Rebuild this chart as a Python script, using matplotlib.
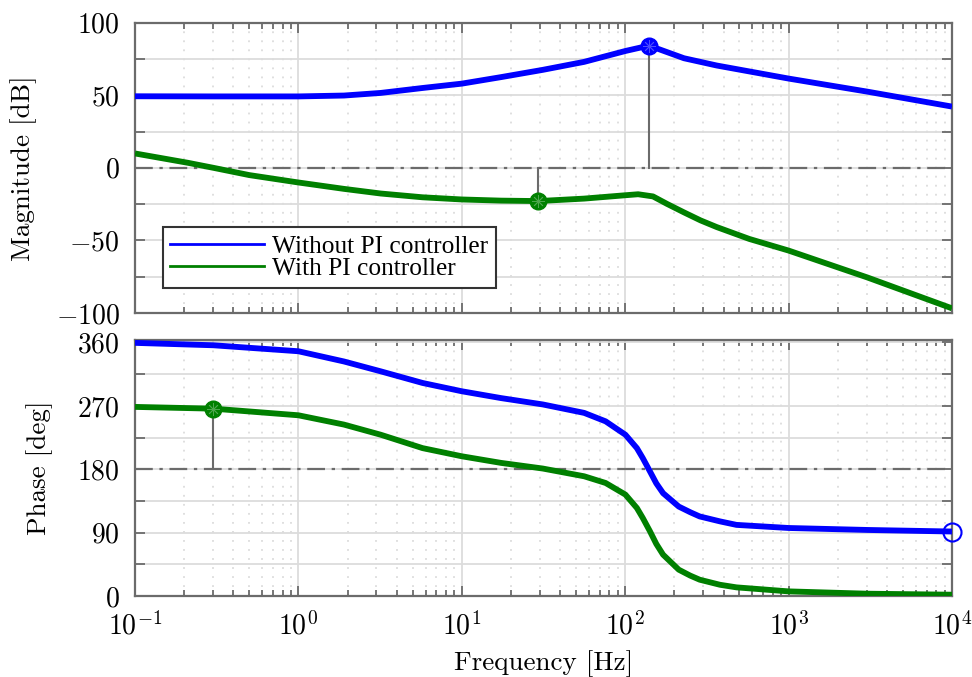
import numpy as np
import matplotlib
matplotlib.use("Agg")
import matplotlib.pyplot as plt
from matplotlib.lines import Line2D
from matplotlib.ticker import FixedLocator, LogLocator, NullFormatter

plt.rcParams['font.family'] = ['cmr10']
plt.rcParams['mathtext.fontset'] = 'cm'
plt.rcParams['axes.formatter.use_mathtext'] = True

# datos
f_mag_sin = [0.1, 0.302, 1.0, 1.9, 3.19, 5.75, 10, 17.4, 31.3, 56.1, 100.3, 140, 229, 363, 1000, 3030, 10000]
mag_sin = [49.3, 49.2, 49.2, 49.8, 51.6, 55, 58, 62.5, 67.5, 73, 80.5, 84.2, 75.5, 70.5, 61.5, 52.5, 42.2]

f_mag_con = [0.1, 0.21, 0.302, 0.5, 1.0, 1.9, 3.19, 5.75, 10, 17.4, 29.4, 56.1, 75.9, 100, 120, 148, 180, 229, 289, 363, 575, 1000, 3030, 10000]
mag_con = [9.9, 3.5, 0, -5, -10.1, -14.5, -17.7, -20.3, -21.8, -22.6, -22.9, -21.2, -20, -18.9, -18.2, -19.7, -24.8, -30.7, -36.2, -40.8, -49, -57, -75.5, -96.8]

f_fase = [0.1, 0.302, 1.0, 1.9, 3.19, 5.75, 10, 17.4, 31.3, 56.1, 75.9, 100.3, 117.9, 128, 141.7, 155, 170.6, 212.8, 250, 285.6, 380, 480, 1000, 3030, 10000]
fase_sin = [359.4, 356, 347.5, 333, 319, 302.5, 290.7, 281, 272, 260, 248, 229, 210, 196, 177, 160, 146, 127, 119, 113, 106, 101, 96.6, 93.8, 91.6]
fase_con = [268.5, 266, 256.6, 243.4, 229, 210, 198.4, 189, 181, 170, 160.5, 144, 125, 111, 92, 74, 58.7, 37.4, 29, 23.2, 16, 12.3, 6.6, 3.3, 1.9]

# margenes (frecuencia, valor)
gm_sin = (140, 84.2)
pm_sin = (10000, 91.6)
gm_con = (29.4, -22.9)
pm_con = (0.302, 266)

azul = (0, 0, 1)
verde = (0, 0.5, 0)
gris = '#6b6b6b'
grid_c = '#dcdcdc'

fig = plt.figure(figsize=(9.72, 6.77), dpi=100)
ax1 = fig.add_axes([0.1389, 0.5377, 0.8405, 0.4288])
ax2 = fig.add_axes([0.1389, 0.1196, 0.8405, 0.3782])

kw = dict(lw=4.2, zorder=4, solid_joinstyle='round', solid_capstyle='butt')
ax1.semilogx(f_mag_sin, mag_sin, color=azul, **kw)
ax1.semilogx(f_mag_con, mag_con, color=verde, **kw)
ax2.semilogx(f_fase, fase_sin, color=azul, **kw)
ax2.semilogx(f_fase, fase_con, color=verde, **kw)

ax1.axhline(0, color=gris, lw=1.6, dashes=(8, 3, 1.5, 3), zorder=2)
ax2.axhline(180, color=gris, lw=1.6, dashes=(8, 3, 1.5, 3), zorder=2)

# lineas verticales de los margenes
ax1.plot([gm_sin[0], gm_sin[0]], [0, gm_sin[1]], color=gris, lw=1.5, zorder=3)
ax1.plot([gm_con[0], gm_con[0]], [0, gm_con[1]], color=gris, lw=1.5, zorder=3)
ax2.plot([pm_con[0], pm_con[0]], [180, pm_con[1]], color=gris, lw=1.5, zorder=3)

def marcador(ax, p, c):
    ax.plot(p[0], p[1], 'o', color=c, ms=12, zorder=5, clip_on=False)
    ax.plot(p[0], p[1], marker=(8, 2, 0), color='white', alpha=0.3, ms=9, mew=0.6, zorder=6, clip_on=False)

marcador(ax1, gm_sin, azul)
marcador(ax1, gm_con, verde)
marcador(ax2, pm_con, verde)
ax2.plot(pm_sin[0], pm_sin[1], 'o', mfc='none', mec=azul, ms=13, mew=1.5, zorder=5, clip_on=False)

for ax in (ax1, ax2):
    ax.set_xlim(0.1, 1e4)
    ax.xaxis.set_major_locator(LogLocator(base=10, numticks=10))
    ax.xaxis.set_minor_locator(LogLocator(base=10, subs=np.arange(2, 10), numticks=50))
    ax.xaxis.set_minor_formatter(NullFormatter())
    ax.grid(True, which='major', axis='both', color=grid_c, lw=1.3, zorder=0)
    ax.grid(True, which='minor', axis='x', color=grid_c, lw=1.3, linestyle=(0, (1, 4)), zorder=0)
    ax.grid(True, which='minor', axis='y', color=grid_c, lw=1.3, zorder=0)
    ax.set_axisbelow(True)
    ax.tick_params(which='both', direction='in', top=True, right=True, color=gris, labelsize=20, pad=11)
    ax.tick_params(which='major', length=7, width=1.3)
    ax.tick_params(which='minor', length=4, width=1.3)
    for s in ax.spines.values():
        s.set_color(gris)
        s.set_linewidth(1.6)

ax1.set_ylim(-100, 100)
ax1.yaxis.set_major_locator(FixedLocator([-100, -50, 0, 50, 100]))
ax1.yaxis.set_minor_locator(FixedLocator([-75, -25, 25, 75]))
ax1.tick_params(axis='y', which='minor', length=7)
ax1.tick_params(labelbottom=False)
ax1.set_ylabel('Magnitude [dB]', fontsize=19.5)
ax1.yaxis.set_label_coords(-0.12, 0.5)

ax2.set_ylim(0, 363.5)
ax2.yaxis.set_major_locator(FixedLocator([0, 90, 180, 270, 360]))
ax2.yaxis.set_minor_locator(FixedLocator([45, 135, 225, 315]))
ax2.tick_params(axis='y', which='minor', length=7)
ax2.set_ylabel('Phase [deg]', fontsize=19.5)
ax2.yaxis.set_label_coords(-0.10, 0.5)
ax2.set_xlabel('Frequency [Hz]', fontsize=19.5, labelpad=7)

h = [Line2D([], [], color=azul, lw=2), Line2D([], [], color=verde, lw=2)]
leg = ax1.legend(h, ['Without PI controller', 'With PI controller'], loc='lower left',
                 bbox_to_anchor=(0.034, 0.086), borderaxespad=0,
                 prop={'family': 'Liberation Serif', 'size': 18.3},
                 fancybox=False, framealpha=1, edgecolor='#333333', handlelength=3.7,
                 handletextpad=0.3, labelspacing=0.0, borderpad=0.3)
leg.get_frame().set_linewidth(1.5)

fig.savefig('out.png', dpi=100)
